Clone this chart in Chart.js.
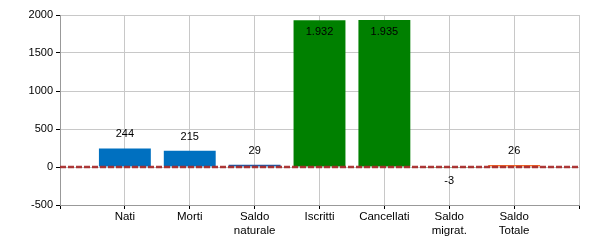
<!DOCTYPE html>
<html>
<head>
<meta charset="utf-8">
<script src="https://cdn.jsdelivr.net/npm/chart.js@4"></script>
<style>
  body { margin: 0; background: #fff; }
  #wrap { width: 600px; height: 250px; }
</style>
</head>
<body>
<div id="wrap"><canvas id="bilancioChart" width="600" height="250"></canvas></div>
<script>
// categories and values
const categories = ['Nati', 'Morti', ['Saldo', 'naturale'], 'Iscritti', 'Cancellati', ['Saldo', 'migrat.'], ['Saldo', 'Totale']];
const values = [244, 215, 29, 1932, 1935, -3, 26];
const barColors = ['#0070c0', '#0070c0', '#1f5aa6', '#008000', '#008000', '#3d7a1e', '#f26a2a'];
const yTicks = [-500, 0, 500, 1000, 1500, 2000];

// empty slot at each end, so grid lines sit on the bar centres
const labels = [''].concat(categories, ['']);
const data = [null].concat(values, [null]);
const colors = ['#fff'].concat(barColors, ['#fff']);

const FONT = 'Liberation Sans, Arial, sans-serif';

function fmt(v) {
    // italian thousands separator
    return String(v).replace(/\B(?=(\d{3})+(?!\d))/g, '.');
}

// dashed line on zero + value labels
const extras = {
    id: 'extras',
    afterDatasetsDraw(chart) {
        const ctx = chart.ctx;
        const area = chart.chartArea;
        const y0 = chart.scales.y.getPixelForValue(0);
        ctx.save();
        ctx.strokeStyle = 'rgba(165, 35, 35, 0.9)';
        ctx.lineWidth = 2.5;
        ctx.setLineDash([6, 2]);
        ctx.beginPath();
        ctx.moveTo(area.left, y0);
        ctx.lineTo(area.right, y0);
        ctx.stroke();
        ctx.setLineDash([]);

        ctx.font = '11px ' + FONT;
        ctx.fillStyle = '#000';
        ctx.textAlign = 'center';
        ctx.textBaseline = 'middle';
        const meta = chart.getDatasetMeta(0);
        meta.data.forEach((bar, i) => {
            const v = data[i];
            if (v === null) return;
            let ty;
            if (bar.base - bar.y > 60) ty = bar.y + 12;
            else if (v >= 0) ty = bar.y - 14;
            else ty = y0 + 14;
            ctx.fillText(fmt(v), bar.x, ty);
        });
        ctx.restore();
    }
};

new Chart(document.getElementById('bilancioChart'), {
    type: 'bar',
    data: {
        labels: labels,
        datasets: [{
            data: data,
            backgroundColor: colors,
            barPercentage: 1,
            categoryPercentage: 0.8
        }]
    },
    options: {
        responsive: false,
        animation: false,
        layout: { padding: { top: 15, right: 21, left: 0, bottom: 0 } },
        plugins: {
            legend: { display: false },
            tooltip: { enabled: false }
        },
        scales: {
            x: {
                offset: false,
                grid: { offset: false, color: '#c8c8c8', tickColor: '#000', tickLength: 4 },
                border: { color: '#999' },
                ticks: {
                    autoSkip: false,
                    maxRotation: 0,
                    padding: 1,
                    color: '#000',
                    font: { family: FONT, size: 11.5 }
                },
                afterFit(scale) { scale.height = 45; }
            },
            y: {
                min: -500,
                max: 2000,
                grid: { color: '#c8c8c8', tickColor: '#000', tickLength: 4 },
                border: { color: '#999' },
                afterBuildTicks(scale) { scale.ticks = yTicks.map(v => ({ value: v })); },
                ticks: {
                    padding: 3,
                    color: '#000',
                    font: { family: FONT, size: 11 },
                    callback: v => String(v)
                },
                afterFit(scale) { scale.width = 60; }
            }
        }
    },
    plugins: [extras]
});
</script>
</body>
</html>
